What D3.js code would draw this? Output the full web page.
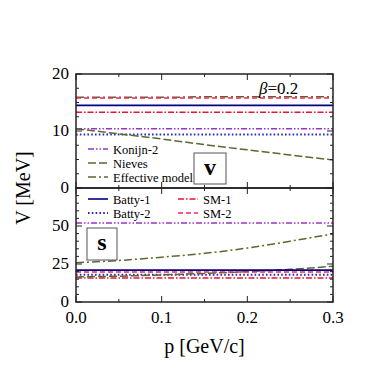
<!DOCTYPE html>
<html>
<head>
<meta charset="utf-8">
<script src="https://cdn.jsdelivr.net/npm/d3@7"></script>
<style>
  body { margin: 0; background: #fff; }
  text { font-family: "Liberation Serif", "DejaVu Serif", serif; fill: #000; }
</style>
</head>
<body>
<div id="chart"></div>
<script>
const p = [0, 0.05, 0.1, 0.15, 0.2, 0.25, 0.3];
const xTicks = [0, 0.1, 0.2, 0.3];

// vector potential (top panel)
const vBatty1 = [14.5, 14.5, 14.5, 14.5, 14.5, 14.5, 14.5];
const vBatty2 = [9.4, 9.4, 9.4, 9.4, 9.4, 9.4, 9.4];
const vSM1 = [13.3, 13.3, 13.3, 13.3, 13.3, 13.3, 13.3];
const vSM2 = [15.8, 15.8, 15.8, 15.8, 15.8, 15.8, 15.8];
const vKonijn2 = [10.4, 10.4, 10.4, 10.4, 10.4, 10.4, 10.4];
const vNieves = [10.4, 9.5, 8.6, 7.6, 6.7, 5.8, 4.9];
const vEffective = [15.9, 15.9, 15.9, 16.0, 16.0, 16.0, 16.0];
const vTicks = [0, 10, 20];

// scalar potential (bottom panel)
const sBatty1 = [21, 21, 21, 21, 21, 21, 21];
const sBatty2 = [18, 18, 18, 18, 18, 18, 18];
const sSM1 = [15.8, 15.8, 15.8, 15.8, 15.8, 15.8, 15.8];
const sSM2 = [19.8, 19.8, 19.8, 19.8, 19.8, 19.8, 19.8];
const sKonijn2 = [52, 52, 52, 52, 52, 52, 52];
const sNieves = [16.5, 17, 17.8, 18.8, 20, 21.5, 23.5];
const sEffective = [25.9, 27.3, 29.5, 32, 35.5, 40, 44.8];
const sTicks = [0, 25, 50];

const styles = {
  "Batty-1": {color: "#000080", dash: null, w: 1.6},
  "Batty-2": {color: "#2a2ac0", dash: "1.6,2.2", w: 2},
  "SM-1": {color: "#ee1133", dash: "6,2,1.5,2", w: 1.5},
  "SM-2": {color: "#ff2255", dash: "5,3", w: 1.5},
  "Konijn-2": {color: "#9933cc", dash: "6,2,1.5,2,1.5,2", w: 1.5},
  "Nieves": {color: "#556b2f", dash: "8,3", w: 1.5},
  "Effective model": {color: "#556b2f", dash: "8,3,2,3", w: 1.5}
};

const mLeft = 76, mRight = 333, mTop = 74, ph = 114;
const svg = d3.select("#chart").append("svg")
  .attr("width", 368).attr("height", 368);

const x = d3.scaleLinear().domain([0, 0.3]).range([mLeft, mRight]);
const yV = d3.scaleLinear().domain([0, 20]).range([mTop + ph, mTop]);
const yS = d3.scaleLinear().domain([0, 75]).range([mTop + 2 * ph, mTop + ph]);

function drawSeries(y, name, vals) {
  const s = styles[name];
  const line = d3.line().x((d, i) => x(p[i])).y(d => y(d)).curve(d3.curveMonotoneX);
  svg.append("path")
    .attr("d", line(vals))
    .attr("fill", "none")
    .attr("stroke", s.color)
    .attr("stroke-width", s.w)
    .attr("stroke-dasharray", s.dash);
}

drawSeries(yV, "Konijn-2", vKonijn2);
drawSeries(yV, "Batty-2", vBatty2);
drawSeries(yV, "SM-1", vSM1);
drawSeries(yV, "Batty-1", vBatty1);
drawSeries(yV, "Effective model", vEffective);
drawSeries(yV, "SM-2", vSM2);
drawSeries(yV, "Nieves", vNieves);

drawSeries(yS, "Konijn-2", sKonijn2);
drawSeries(yS, "Effective model", sEffective);
drawSeries(yS, "SM-1", sSM1);
drawSeries(yS, "Batty-2", sBatty2);
drawSeries(yS, "Nieves", sNieves);
drawSeries(yS, "SM-2", sSM2);
drawSeries(yS, "Batty-1", sBatty1);

// frames and ticks
function frame(y, major, minorStep) {
  const [y0, y1] = y.range();
  svg.append("rect")
    .attr("x", mLeft).attr("y", y1)
    .attr("width", mRight - mLeft).attr("height", y0 - y1)
    .attr("fill", "none").attr("stroke", "#222").attr("stroke-width", 1.5);

  const xMinor = d3.range(0, 0.3001, 0.05);
  xMinor.forEach(v => {
    const isMajor = xTicks.some(t => Math.abs(t - v) < 1e-6);
    const len = isMajor ? 6 : 3;
    svg.append("line").attr("x1", x(v)).attr("x2", x(v))
      .attr("y1", y0).attr("y2", y0 - len).attr("stroke", "#222");
    svg.append("line").attr("x1", x(v)).attr("x2", x(v))
      .attr("y1", y1).attr("y2", y1 + len).attr("stroke", "#222");
  });

  const dom = y.domain();
  d3.range(dom[0], dom[1] + 0.001, minorStep).forEach(v => {
    const isMajor = major.includes(v);
    const len = isMajor ? 6 : 3;
    svg.append("line").attr("x1", mLeft).attr("x2", mLeft + len)
      .attr("y1", y(v)).attr("y2", y(v)).attr("stroke", "#222");
    svg.append("line").attr("x1", mRight).attr("x2", mRight - len)
      .attr("y1", y(v)).attr("y2", y(v)).attr("stroke", "#222");
  });

  svg.append("g").selectAll("text")
    .data(major).enter().append("text")
    .attr("x", mLeft - 7).attr("y", d => y(d) + 5)
    .attr("text-anchor", "end")
    .style("font-size", "17px")
    .text(d => d);
}

frame(yV, vTicks, 2.5);
frame(yS, sTicks, 5);

svg.append("g").selectAll("text")
  .data(xTicks).enter().append("text")
  .attr("x", d => x(d)).attr("y", mTop + 2 * ph + 21)
  .attr("text-anchor", "middle")
  .style("font-size", "17px")
  .text(d => d.toFixed(1));

svg.append("text")
  .attr("x", (mLeft + mRight) / 2).attr("y", 353)
  .attr("text-anchor", "middle")
  .style("font-size", "20px")
  .text("p [GeV/c]");

svg.append("text")
  .attr("transform", `translate(30,${mTop + ph}) rotate(-90)`)
  .attr("text-anchor", "middle")
  .style("font-size", "20px")
  .text("V [MeV]");

// beta label
const beta = svg.append("text")
  .attr("x", 259).attr("y", 94)
  .style("font-size", "17px");
beta.append("tspan").style("font-style", "italic").text("β");
beta.append("tspan").text("=0.2");

// panel letter boxes
function letterBox(bx, by, bw, bh, letter) {
  svg.append("rect").attr("x", bx).attr("y", by).attr("width", bw).attr("height", bh)
    .attr("fill", "#fff").attr("stroke", "#555").attr("stroke-width", 1);
  svg.append("text").attr("x", bx + bw / 2).attr("y", by + bh / 2 + 6)
    .attr("text-anchor", "middle")
    .style("font-size", "24px").style("font-weight", "bold")
    .text(letter);
}
letterBox(194, 153, 32, 31, "v");
letterBox(87, 228, 30, 32, "s");

// legends
function legendItem(lx, ly, name) {
  const s = styles[name];
  svg.append("line").attr("x1", lx).attr("x2", lx + 20)
    .attr("y1", ly).attr("y2", ly)
    .attr("stroke", s.color).attr("stroke-width", s.w)
    .attr("stroke-dasharray", s.dash);
  svg.append("text").attr("x", lx + 25).attr("y", ly + 4.5)
    .style("font-size", "12.5px").text(name);
}
legendItem(88, 149, "Konijn-2");
legendItem(88, 163, "Nieves");
legendItem(88, 177, "Effective model");
legendItem(88, 199, "Batty-1");
legendItem(88, 213, "Batty-2");
legendItem(178, 199, "SM-1");
legendItem(178, 213, "SM-2");
</script>
</body>
</html>
